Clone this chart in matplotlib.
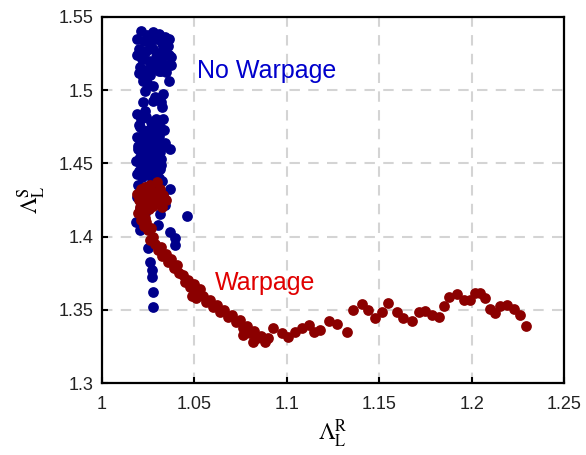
import numpy as np
import matplotlib.pyplot as plt

plt.rcParams['font.family'] = ['Liberation Sans', 'DejaVu Sans']
plt.rcParams['mathtext.fontset'] = 'stix'

# "No Warpage" cloud
blue_x = [1.0211, 1.0244, 1.0276, 1.0308, 1.0341, 1.0292, 1.0227, 1.0260, 1.0325, 1.0357,
          1.0200, 1.0238, 1.0276, 1.0308, 1.0341, 1.0373, 1.0216, 1.0254, 1.0292, 1.0325,
          1.0357, 1.0206, 1.0238, 1.0276, 1.0308, 1.0346, 1.0222, 1.0260, 1.0373, 1.0189,
          1.0363,
          1.0190, 1.0225, 1.0330, 1.0360, 1.0290, 1.0250, 1.0320, 1.0200,
          1.0222, 1.0276, 1.0363, 1.0233, 1.0330, 1.0222, 1.0276, 1.0325, 1.0233, 1.0330,
          1.0368, 1.0368,
          1.0189, 1.0211, 1.0238, 1.0265, 1.0292, 1.0206, 1.0233, 1.0260, 1.0287, 1.0314,
          1.0189, 1.0222, 1.0249, 1.0276, 1.0303, 1.0325, 1.0195, 1.0216, 1.0244, 1.0271,
          1.0298, 1.0319, 1.0184, 1.0211, 1.0238, 1.0265, 1.0292, 1.0314, 1.0189, 1.0216,
          1.0244, 1.0271, 1.0298, 1.0325, 1.0195, 1.0222, 1.0249, 1.0276, 1.0303, 1.0330,
          1.0189, 1.0216, 1.0244, 1.0271, 1.0298, 1.0341, 1.0206, 1.0233, 1.0184, 1.0206,
          1.0314, 1.0341,
          1.0198, 1.0224, 1.0252, 1.0281, 1.0309, 1.0194, 1.0229, 1.0257, 1.0284, 1.0312,
          1.0203, 1.0231, 1.0262, 1.0290, 1.0318, 1.0199, 1.0228, 1.0256, 1.0285, 1.0310,
          1.0246, 1.0287, 1.0318, 1.0335, 1.0340,
          1.0460, 1.0368, 1.0395, 1.0395, 1.0303, 1.0249, 1.0260, 1.0271, 1.0271, 1.0276,
          1.0276]
blue_y = [1.5404, 1.5377, 1.5398, 1.5384, 1.5363, 1.5350, 1.5336, 1.5315, 1.5322, 1.5301,
          1.5281, 1.5267, 1.5281, 1.5254, 1.5240, 1.5226, 1.5212, 1.5199, 1.5226, 1.5185,
          1.5171, 1.5158, 1.5137, 1.5158, 1.5130, 1.5123, 1.5089, 1.5103, 1.5171, 1.5240,
          1.5350,
          1.5350, 1.5255, 1.5300, 1.5240, 1.5180, 1.5360, 1.5130, 1.5120,
          1.5062, 1.5027, 1.5062, 1.4993, 1.4973, 1.4918, 1.4925, 1.4884, 1.4856, 1.4801,
          1.4596, 1.4322,
          1.4836, 1.4801, 1.4815, 1.4781, 1.4801, 1.4747, 1.4719, 1.4733, 1.4699, 1.4747,
          1.4678, 1.4651, 1.4665, 1.4630, 1.4651, 1.4610, 1.4596, 1.4562, 1.4582, 1.4548,
          1.4576, 1.4528, 1.4514, 1.4486, 1.4507, 1.4473, 1.4493, 1.4459, 1.4425, 1.4404,
          1.4425, 1.4391, 1.4411, 1.4377, 1.4350, 1.4322, 1.4343, 1.4308, 1.4322, 1.4288,
          1.4267, 1.4240, 1.4260, 1.4226, 1.4253, 1.4253, 1.4185, 1.4158, 1.4103, 1.4048,
          1.4151, 1.4219,
          1.4762, 1.4700, 1.4714, 1.4760, 1.4690, 1.4620, 1.4600, 1.4640, 1.4612, 1.4580,
          1.4540, 1.4520, 1.4530, 1.4515, 1.4490, 1.4450, 1.4445, 1.4452, 1.4440, 1.4400,
          1.5045, 1.4950, 1.4920, 1.4730, 1.4640,
          1.4144, 1.4034, 1.3993, 1.3945, 1.4082, 1.3925, 1.3829, 1.3774, 1.3726, 1.3623,
          1.3521]

# "Warpage" branch
red_x = [1.0189, 1.0200, 1.0211, 1.0222, 1.0233, 1.0244, 1.0260, 1.0271, 1.0287, 1.0298,
         1.0314, 1.0330, 1.0346, 1.0206, 1.0222, 1.0238, 1.0260, 1.0195, 1.0211, 1.0233,
         1.0254, 1.0276, 1.0303, 1.0325, 1.0227, 1.0249, 1.0238, 1.0265, 1.0276, 1.0260,
         1.0287, 1.0303, 1.0319, 1.0325, 1.0346, 1.0357, 1.0373, 1.0390, 1.0406, 1.0417,
         1.0438, 1.0449, 1.0465, 1.0476, 1.0498, 1.0514, 1.0530, 1.0487, 1.0509, 1.0547,
         1.0563, 1.0584, 1.0601, 1.0622, 1.0638, 1.0660, 1.0682, 1.0703, 1.0725, 1.0747,
         1.0763, 1.0785, 1.0801, 1.0823, 1.0839, 1.0860, 1.0882, 1.0898,
         1.0765, 1.0819, 1.0882, 1.0927, 1.0972, 1.1008, 1.1044, 1.1081, 1.1117, 1.1144,
         1.1180, 1.1225, 1.1270, 1.1324, 1.1360, 1.1405, 1.1441, 1.1477, 1.1513, 1.1549,
         1.1595, 1.1630, 1.1676, 1.1712, 1.1748, 1.1784, 1.1820, 1.1847, 1.1874, 1.1919,
         1.1955, 1.1991, 1.2018, 1.2045, 1.2073, 1.2100, 1.2127, 1.2154, 1.2190, 1.2226,
         1.2262, 1.2294]
red_y = [1.4288, 1.4253, 1.4322, 1.4267, 1.4336, 1.4295, 1.4349, 1.4308, 1.4267, 1.4370,
         1.4322, 1.4281, 1.4253, 1.4205, 1.4171, 1.4219, 1.4247, 1.4164, 1.4116, 1.4130,
         1.4185, 1.4212, 1.4226, 1.4199, 1.4075, 1.4048, 1.4103, 1.4062, 1.4000, 1.3980,
         1.3952, 1.3911, 1.3932, 1.3870, 1.3884, 1.3829, 1.3849, 1.3788, 1.3808, 1.3753,
         1.3740, 1.3692, 1.3706, 1.3658, 1.3678, 1.3623, 1.3644, 1.3596, 1.3582, 1.3596,
         1.3555, 1.3568, 1.3521, 1.3534, 1.3486, 1.3500, 1.3452, 1.3466, 1.3418, 1.3432,
         1.3377, 1.3390, 1.3343, 1.3356, 1.3308, 1.3322, 1.3281, 1.3308,
         1.3329, 1.3283, 1.3295, 1.3375, 1.3340, 1.3313, 1.3351, 1.3375, 1.3397, 1.3351,
         1.3363, 1.3427, 1.3404, 1.3351, 1.3500, 1.3539, 1.3500, 1.3447, 1.3482, 1.3546,
         1.3488, 1.3443, 1.3427, 1.3488, 1.3493, 1.3466, 1.3454, 1.3527, 1.3591, 1.3607,
         1.3568, 1.3568, 1.3618, 1.3614, 1.3580, 1.3505, 1.3477, 1.3527, 1.3534, 1.3505,
         1.3466, 1.3390]

xticks = [1, 1.05, 1.1, 1.15, 1.2, 1.25]
xtick_labels = ['1', '1.05', '1.1', '1.15', '1.2', '1.25']
yticks = [1.3, 1.35, 1.4, 1.45, 1.5, 1.55]
ytick_labels = ['1.3', '1.35', '1.4', '1.45', '1.5', '1.55']

fig = plt.figure(figsize=(5.86, 4.55), dpi=100)
ax = fig.add_axes([0.174, 0.158, 0.789, 0.805])

ax.scatter(blue_x, blue_y, s=60, color='#00008B', linewidths=0, zorder=3)
ax.scatter(red_x, red_y, s=60, color='#8B0000', linewidths=0, zorder=4)

ax.text(1.0514, 1.513, 'No Warpage', color='#0000CC', fontsize=18, va='center', ha='left')
ax.text(1.0612, 1.3685, 'Warpage', color='#E00000', fontsize=18, va='center', ha='left')

ax.set_xlim(1, 1.25)
ax.set_ylim(1.3, 1.55)
ax.set_xticks(xticks)
ax.set_xticklabels(xtick_labels)
ax.set_yticks(yticks)
ax.set_yticklabels(ytick_labels)
ax.tick_params(direction='in', length=4, width=1.5, labelsize=13, labelcolor='#222222')
ax.tick_params(axis='x', pad=9)
ax.tick_params(axis='y', pad=6)

ax.grid(True, color='#d4d4d4', linestyle=(0, (5, 4)), linewidth=1.5, zorder=0)
ax.set_axisbelow(True)
for sp in ax.spines.values():
    sp.set_linewidth(1.6)
    sp.set_color('black')

ax.set_xlabel(r'$\Lambda_{\mathrm{L}}^{\mathrm{R}}$', fontsize=17, labelpad=4)
ax.set_ylabel(r'$\Lambda_{\mathrm{L}}^{\mathrm{S}}$', fontsize=17, labelpad=8)

fig.savefig('out.png', dpi=100)
